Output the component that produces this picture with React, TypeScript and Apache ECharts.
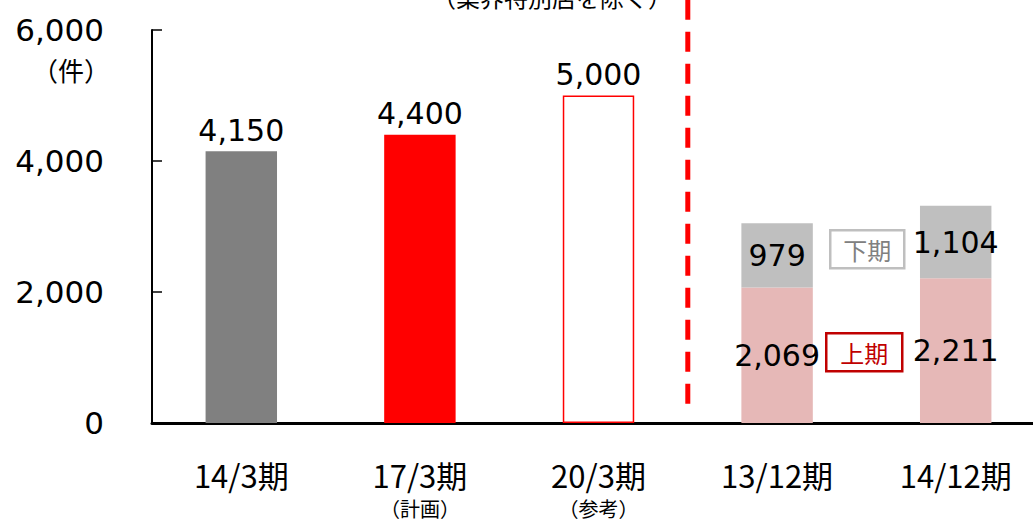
import React, { useEffect, useRef } from "react";
import * as echarts from "echarts";

const categories = ["14/3期", "17/3期", "20/3期", "13/12期", "14/12期"];
const subLabels = ["", "（計画）", "（参考）", "", ""];
const annualValues: (number | string)[] = [4150, 4400, 5000, "-", "-"];
const firstHalf: (number | string)[] = ["-", "-", "-", 2069, 2211];
const secondHalf: (number | string)[] = ["-", "-", "-", 979, 1104];
const yTicks = { min: 0, max: 6000, interval: 2000 };
const dividerX = 3;
const dividerY = [6460, 200];

const NUM_FONT = "'DejaVu Sans', Verdana, sans-serif";
const JP_FONT = "'Noto Sans CJK JP', sans-serif";

export default function App() {
  const ref = useRef<HTMLDivElement>(null);
  useEffect(() => {
    if (!ref.current) return;
    const chart = echarts.init(ref.current, undefined, { renderer: "svg" });
    const annualStyles = [
      { color: "#808080" },
      { color: "#ff0000" },
      { color: "#ffffff", borderColor: "#ff0000", borderWidth: 1.5 },
    ];
    const fmt = (p: any) => Number(p.value).toLocaleString("en-US");
    chart.setOption({
      animation: false,
      grid: { left: 152, top: 30, right: 0, bottom: 98, containLabel: false },
      xAxis: [
        {
          type: "category",
          data: categories,
          axisLine: { lineStyle: { color: "#000", width: 3 } },
          axisTick: { inside: true, length: 11, lineStyle: { color: "#000", width: 1.5 } },
          axisLabel: {
            margin: 36,
            fontFamily: JP_FONT,
            fontSize: 31,
            color: "#000",
            verticalAlign: "top",
            lineHeight: 31,
          },
        },
        { type: "value", min: 0, max: 5, show: false },
        {
          type: "category",
          position: "bottom",
          data: subLabels,
          axisLine: { show: false },
          axisTick: { show: false },
          axisLabel: {
            margin: 75,
            fontFamily: JP_FONT,
            fontSize: 20,
            color: "#000",
            verticalAlign: "top",
            lineHeight: 20,
            interval: 0,
          },
        },
      ],
      yAxis: {
        type: "value",
        min: yTicks.min,
        max: yTicks.max,
        interval: yTicks.interval,
        axisLine: { show: true, lineStyle: { color: "#000", width: 2 } },
        axisTick: { show: true, inside: true, length: 10, lineStyle: { color: "#000", width: 1.5 } },
        splitLine: { show: false },
        axisLabel: {
          margin: 48,
          fontFamily: NUM_FONT,
          fontSize: 31,
          color: "#000",
          formatter: (v: number) => v.toLocaleString("en-US"),
        },
      },
      series: [
        {
          type: "bar",
          stack: "s",
          barWidth: "40%",
          data: annualValues.map((v, i) => ({ value: v, itemStyle: annualStyles[i] || {} })),
          label: {
            show: true,
            position: "top",
            distance: 6,
            fontFamily: NUM_FONT,
            fontSize: 30,
            color: "#000",
            formatter: fmt,
          },
        },
        {
          type: "bar",
          stack: "s",
          barWidth: "40%",
          data: firstHalf,
          itemStyle: { color: "#e6b8b7" },
          label: { show: true, position: "inside", fontFamily: NUM_FONT, fontSize: 30, color: "#000", formatter: fmt },
        },
        {
          type: "bar",
          stack: "s",
          barWidth: "40%",
          data: secondHalf,
          itemStyle: { color: "#bfbfbf" },
          label: { show: true, position: "inside", fontFamily: NUM_FONT, fontSize: 30, color: "#000", formatter: fmt },
        },
        {
          type: "line",
          xAxisIndex: 1,
          clip: false,
          symbol: "none",
          data: dividerY.map((y) => [dividerX, y]),
          lineStyle: { color: "#ff0000", width: 5, type: [20, 12] },
          z: 5,
        },
      ],
      graphic: [
        {
          type: "text",
          left: 432,
          top: -16,
          style: { text: "（業界特別店を除く）", fontFamily: JP_FONT, fontSize: 24, fill: "#000" },
        },
        {
          type: "text",
          left: 32,
          top: 56,
          style: { text: "（件）", fontFamily: JP_FONT, fontSize: 26, fill: "#000" },
        },
        {
          type: "group",
          left: 829,
          top: 229,
          children: [
            { type: "rect", shape: { x: 0, y: 0, width: 74, height: 38 }, style: { fill: "#fff", stroke: "#bfbfbf", lineWidth: 2.5 } },
            { type: "text", x: 37, y: 19, style: { text: "下期", fontFamily: JP_FONT, fontSize: 24, fill: "#808080", align: "center", verticalAlign: "middle" } },
          ],
        },
        {
          type: "group",
          left: 825,
          top: 332,
          children: [
            { type: "rect", shape: { x: 0, y: 0, width: 76, height: 38 }, style: { fill: "#fff", stroke: "#c00000", lineWidth: 2.5 } },
            { type: "text", x: 38, y: 19, style: { text: "上期", fontFamily: JP_FONT, fontSize: 24, fill: "#c00000", align: "center", verticalAlign: "middle" } },
          ],
        },
      ],
    });
    return () => chart.dispose();
  }, []);
  return (
    <div style={{ position: "absolute", left: 0, top: 0, width: 1033, height: 521, overflow: "hidden" }}>
      <div ref={ref} style={{ width: 1045, height: 521 }} />
    </div>
  );
}
